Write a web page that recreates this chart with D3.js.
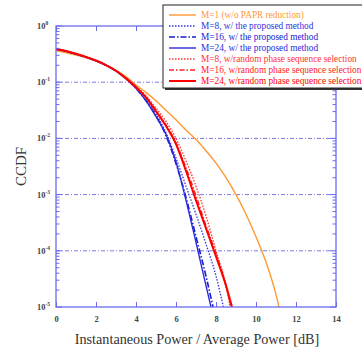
<!DOCTYPE html>
<html><head><meta charset="utf-8">
<script src="https://cdn.jsdelivr.net/npm/d3@7"></script>
<style>body{margin:0;background:#fff}svg{display:block}</style>
</head><body>
<svg id="c" width="362" height="351"></svg>
<script>
const xTicks = [0,2,4,6,8,10,12,14];
const yExps = [0,-1,-2,-3,-4,-5];
const seriesNames = [
  "M=1 (w/o PAPR reduction)",
  "M=8, w/ the proposed method",
  "M=16, w/ the proposed method",
  "M=24, w/ the proposed method",
  "M=8, w/random phase sequence selection",
  "M=16, w/random phase sequence selection",
  "M=24, w/random phase sequence selection"
];
const orangeM1 = [[0,.363],[.5,.335],[1,.305],[1.5,.272],[2,.237],[2.5,.2],[3,.162],[3.5,.126],[4,.0891],[4.5,.066],[5,.0468],[5.5,.0316],[6,.0214],[6.5,.0141],[7,.00955],[7.5,.00603],[8,.00363],[8.5,.002],[9,.001],[9.5,.000447],[10,.000178],[10.5,.000063],[11,.0000166],[11.15,.00001]];
const blueM8 = [[0,.385],[.5,.355],[1,.316],[1.5,.279],[2,.24],[2.5,.2],[3,.158],[3.5,.116],[4,.0832],[4.5,.0501],[5,.0275],[5.5,.0126],[6,.00447],[6.5,.00141],[7,.000447],[7.5,.000132],[8,.0000355],[8.37,.00001]];
const blueM16 = [[0,.385],[.5,.355],[1,.316],[1.5,.279],[2,.24],[2.5,.2],[3,.158],[3.5,.115],[4,.0776],[4.5,.0468],[5,.0251],[5.5,.0112],[6,.00355],[6.5,.00089],[7,.000178],[7.5,.0000355],[7.85,.00001]];
const blueM24 = [[0,.385],[.5,.355],[1,.316],[1.5,.279],[2,.24],[2.5,.2],[3,.158],[3.5,.115],[4,.0776],[4.5,.0468],[5,.0245],[5.5,.0117],[6,.0038],[6.5,.00079],[7,.000141],[7.5,.000024],[7.75,.00001]];
const redM8 = [[0,.389],[.5,.359],[1,.32],[1.5,.282],[2,.243],[2.5,.202],[3,.16],[3.5,.118],[4,.0851],[4.5,.0575],[5,.0347],[5.5,.02],[6,.01],[6.5,.00398],[7,.00141],[7.5,.000417],[8,.0001],[8.5,.000024],[8.7,.00001]];
const redM16 = [[0,.389],[.5,.359],[1,.32],[1.5,.282],[2,.243],[2.5,.202],[3,.16],[3.5,.117],[4,.0813],[4.5,.055],[5,.0316],[5.5,.0174],[6,.00832],[6.5,.00302],[7,.000955],[7.5,.000282],[8,.0000891],[8.5,.000024],[8.75,.00001]];
const redM24 = [[0,.389],[.5,.359],[1,.32],[1.5,.282],[2,.243],[2.5,.202],[3,.16],[3.5,.117],[4,.0813],[4.5,.0537],[5,.0302],[5.5,.0166],[6,.00794],[6.5,.00263],[7,.00079],[7.5,.000251],[8,.0000794],[8.5,.000024],[8.8,.00001]];

const series = [
  {name:seriesNames[0], data:orangeM1, color:"#ff9933", w:1.4, dash:null},
  {name:seriesNames[1], data:blueM8, color:"#3333dd", w:1.3, dash:"1.5,1.5"},
  {name:seriesNames[2], data:blueM16, color:"#1a1acc", w:1.6, dash:"6,2,1.5,2"},
  {name:seriesNames[3], data:blueM24, color:"#2a2add", w:1.4, dash:null},
  {name:seriesNames[4], data:redM8, color:"#ff3333", w:1.3, dash:"1.5,1.5"},
  {name:seriesNames[5], data:redM16, color:"#ff2222", w:1.4, dash:"5,2,1.5,2"},
  {name:seriesNames[6], data:redM24, color:"#ff0000", w:2, dash:null}
];

const svg = d3.select("#c");
const L=56, R=336, T=26, B=307;
const x = d3.scaleLinear().domain([0,14]).range([L,R]);
const y = d3.scaleLog().domain([1e-5,1]).range([B,T]);
const axisCol = "#6b6bf0";
const serif = "'Liberation Serif','DejaVu Serif',serif";

// grid
svg.append("g").selectAll("line").data(yExps.filter(e=>e<0&&e>-5)).join("line")
  .attr("x1",L).attr("x2",R).attr("y1",e=>y(Math.pow(10,e))).attr("y2",e=>y(Math.pow(10,e)))
  .attr("stroke","#5555dd").attr("stroke-width",0.8).attr("stroke-dasharray","4,2,1,2");

// curves
svg.append("defs").append("clipPath").attr("id","clip").append("rect")
  .attr("x",L).attr("y",T).attr("width",R-L).attr("height",B-T);
const line = d3.line().x(d=>x(d[0])).y(d=>y(d[1])).curve(d3.curveMonotoneX);
const cg = svg.append("g").attr("clip-path","url(#clip)");
series.forEach(s=>{
  cg.append("path").attr("d",line(s.data)).attr("fill","none")
    .attr("stroke",s.color).attr("stroke-width",s.w)
    .attr("stroke-dasharray",s.dash);
});

// axes frame
svg.append("rect").attr("x",L).attr("y",T).attr("width",R-L).attr("height",B-T)
  .attr("fill","none").attr("stroke",axisCol).attr("stroke-width",1.3);

// x ticks (inward)
const axB = d3.axisBottom(x).tickValues(xTicks).tickSize(-5).tickFormat(d3.format("d")).tickPadding(9);
const gx = svg.append("g").attr("transform",`translate(0,${B})`).call(axB);
gx.select(".domain").remove();
gx.selectAll("line").attr("stroke",axisCol);
gx.selectAll("text").attr("font-family",serif).attr("font-size",8.5).attr("font-weight","bold").attr("fill","#444");
const axT = d3.axisTop(x).tickValues(xTicks).tickSize(-5).tickFormat("");
const gt = svg.append("g").attr("transform",`translate(0,${T})`).call(axT);
gt.select(".domain").remove(); gt.selectAll("line").attr("stroke",axisCol);

// y ticks major + minor
const minor = [];
for(let e=-5;e<0;e++) for(let k=2;k<=9;k++) minor.push(k*Math.pow(10,e));
const yMajor = yExps.map(e=>Math.pow(10,e));
[[L,1],[R,-1]].forEach(([x0,dir])=>{
  svg.append("g").selectAll("line").data(minor).join("line")
    .attr("x1",x0).attr("x2",x0+dir*3.5).attr("y1",d=>y(d)).attr("y2",d=>y(d))
    .attr("stroke",axisCol).attr("stroke-width",1);
  svg.append("g").selectAll("line").data(yMajor).join("line")
    .attr("x1",x0).attr("x2",x0+dir*6).attr("y1",d=>y(d)).attr("y2",d=>y(d))
    .attr("stroke",axisCol).attr("stroke-width",1);
});
const yl = svg.append("g").selectAll("text").data(yExps).join("text")
  .attr("x",L-19).attr("y",e=>y(Math.pow(10,e))+3)
  .attr("font-family",serif).attr("font-size",8.5)
  .attr("font-weight","bold").attr("fill","#444");
yl.append("tspan").text("10");
yl.append("tspan").attr("dy",-4).attr("font-size",5.5).text(e=>e===0?"0":"-"+(-e));

// axis titles
svg.append("text").attr("x",197).attr("y",344).attr("text-anchor","middle")
  .attr("font-family",serif).attr("font-size",14.2).attr("fill","#333")
  .text("Instantaneous Power / Average Power [dB]");
svg.append("text").attr("transform",`translate(26,${(T+B)/2}) rotate(-90)`)
  .attr("text-anchor","middle").attr("font-family",serif).attr("font-size",15).attr("fill","#333")
  .text("CCDF");

// legend
const lg = svg.append("g");
lg.append("rect").attr("x",165).attr("y",7).attr("width",210).attr("height",83).attr("fill","#333");
lg.append("rect").attr("x",163).attr("y",5).attr("width",210).attr("height",83)
  .attr("fill","#fff").attr("stroke","#222").attr("stroke-width",1);
series.forEach((s,i)=>{
  const yy = 15 + i*11;
  lg.append("line").attr("x1",169).attr("x2",196).attr("y1",yy).attr("y2",yy)
    .attr("stroke",s.color).attr("stroke-width",s.w).attr("stroke-dasharray",s.dash);
  lg.append("text").attr("x",201).attr("y",yy+3).attr("font-family",serif)
    .attr("font-size",9.3).attr("fill",s.color).text(s.name);
});
</script>
</body></html>
